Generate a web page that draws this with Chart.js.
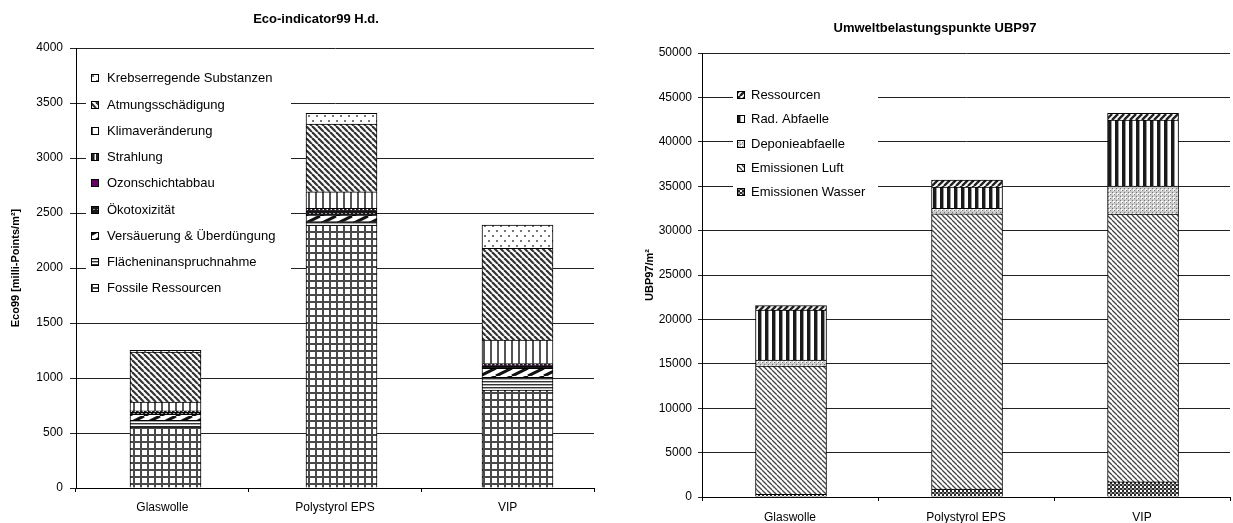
<!DOCTYPE html>
<html>
<head>
<meta charset="utf-8">
<script src="https://cdn.jsdelivr.net/npm/chart.js@4.4.1/dist/chart.umd.min.js"></script>
<style>
html,body{margin:0;padding:0;background:#fff;}
body{position:relative;width:1233px;height:523px;overflow:hidden;}
canvas{position:absolute;top:0;}
#eco{left:0;}
#ubp{left:632px;}
</style>
</head>
<body>
<canvas id="eco" width="632" height="523"></canvas>
<canvas id="ubp" width="606" height="523"></canvas>
<script>
// ---- Eco-indicator 99 (H.d.), milli-points per m² ----
const ecoTitle = 'Eco-indicator99 H.d.';
const ecoAxisTitle = 'Eco99 [milli-Points/m²]';
const ecoCategories = ['Glaswolle', 'Polystyrol EPS', 'VIP'];
const ecoTicks = [0, 500, 1000, 1500, 2000, 2500, 3000, 3500, 4000];
const ecoFossileRessourcen = [555, 2391, 890];
const ecoFlaechen = [60, 30, 115];
const ecoVersaeuerung = [55, 60, 82];
const ecoOekotox = [20, 40, 22];
const ecoOzon = [1, 2, 3];
const ecoStrahlung = [10, 20, 18];
const ecoKlima = [80, 150, 215];
const ecoAtmung = [455, 615, 834];
const ecoKrebs = [15, 97, 212];

// ---- Umweltbelastungspunkte UBP97 per m² ----
const ubpTitle = 'Umweltbelastungspunkte UBP97';
const ubpAxisTitle = 'UBP97/m²';
const ubpCategories = ['Glaswolle', 'Polystyrol EPS', 'VIP'];
const ubpTicks = [0, 5000, 10000, 15000, 20000, 25000, 30000, 35000, 40000, 45000, 50000];
const ubpWasser = [300, 900, 1700];
const ubpLuft = [14450, 31000, 30150];
const ubpDeponie = [680, 600, 3150];
const ubpRadAbfaelle = [5630, 2400, 7450];
const ubpRessourcen = [485, 800, 750];

Chart.defaults.font.family = '"Liberation Sans", Arial, sans-serif';
Chart.defaults.color = '#000';

// hatch fills
const helperCtx = document.createElement('canvas').getContext('2d');
function tile(w, h, draw) {
  const c = document.createElement('canvas');
  c.width = w; c.height = h;
  const g = c.getContext('2d');
  g.fillStyle = '#fff';
  g.fillRect(0, 0, w, h);
  draw(g, w, h);
  return helperCtx.createPattern(c, 'repeat');
}
function diag(dir, w, h, lw, color) {
  return tile(w, h, (g) => {
    g.strokeStyle = color; g.lineWidth = lw;
    for (let k = -2; k <= 2; k++) {
      g.beginPath();
      if (dir === '/') { g.moveTo(k * w, h); g.lineTo(k * w + w, 0); }
      else { g.moveTo(k * w, 0); g.lineTo(k * w + w, h); }
      g.stroke();
    }
  });
}
const fill = {
  grid: tile(7, 7, (g) => { g.fillStyle = '#4a4a4a'; g.fillRect(0, 0, 7, 2); g.fillRect(0, 0, 2, 7); }),
  hlines: tile(4, 3, (g) => { g.fillStyle = '#333'; g.fillRect(0, 0, 4, 1); g.fillStyle = '#aaa'; g.fillRect(0, 1, 4, 1); }),
  wideSlash: diag('/', 16, 8, 3, '#111'),
  darkDots: tile(4, 4, (g) => { g.fillStyle = '#1a1a1a'; g.fillRect(0, 0, 4, 4); g.fillStyle = '#999'; g.fillRect(1, 1, 2, 1); }),
  purple: '#660066',
  darkV: tile(4, 1, (g) => { g.fillStyle = '#222'; g.fillRect(0, 0, 2, 1); g.fillStyle = '#888'; g.fillRect(2, 0, 1, 1); }),
  lightV: tile(7, 1, (g) => { g.fillStyle = '#555'; g.fillRect(0, 0, 2, 1); }),
  backslash: diag('\\', 6, 6, 2.2, '#333'),
  dots: tile(8, 10, (g) => { g.fillStyle = '#777'; g.fillRect(0, 0, 2, 2); g.fillRect(4, 5, 2, 2); }),
  slashDense: diag('/', 6, 6, 2.4, '#222'),
  thickV: tile(7, 1, (g) => { g.fillStyle = '#1a1a1a'; g.fillRect(0, 0, 3, 1); g.fillStyle = '#999'; g.fillRect(3, 0, 1, 1); }),
  fineDots: tile(4, 4, (g) => { g.fillStyle = '#ccc'; g.fillRect(0, 0, 4, 4); g.fillStyle = '#fff'; g.fillRect(1, 1, 2, 2); g.fillStyle = '#777'; g.fillRect(0, 0, 1, 1); g.fillRect(2, 2, 1, 1); }),
  thinBackslash: diag('\\', 5, 5, 1.3, '#444'),
  checker: tile(4, 4, (g) => { g.fillStyle = '#2a2a2a'; g.fillRect(0, 0, 2, 2); g.fillRect(2, 2, 2, 2); g.fillStyle = '#888'; g.fillRect(2, 0, 2, 2); })
};

function series(label, values, bg) {
  return {
    label, backgroundColor: bg,
    data: values.map((v, i) => ({ x: i, y: v })),
    xAxisID: 'xb', yAxisID: 'y',
    borderColor: '#000', borderWidth: 1, borderSkipped: 'start',
    barThickness: 71
  };
}

// legend box drawn inside the plot area
function boxLegend(id, o) {
  return {
    id,
    afterDraw(chart) {
      const ctx = chart.ctx;
      ctx.save();
      ctx.fillStyle = '#fff';
      ctx.fillRect(o.bx, o.by, o.bw, o.bh);
      const items = chart.data.datasets.slice().reverse();
      ctx.font = o.font;
      ctx.textBaseline = 'middle';
      items.forEach((d, i) => {
        const cy = Math.round(o.y0 + i * o.dy);
        ctx.fillStyle = d.backgroundColor;
        ctx.fillRect(o.sx, cy - 3, 6, 6);
        ctx.strokeStyle = '#000';
        ctx.lineWidth = 1;
        ctx.strokeRect(o.sx - 0.5, cy - 3.5, 7, 7);
        ctx.fillStyle = '#000';
        ctx.fillText(d.label, o.tx, cy);
      });
      ctx.restore();
    }
  };
}

function makeChart(el, cfg) {
  return new Chart(document.getElementById(el), {
    type: 'bar',
    data: { datasets: cfg.datasets },
    options: {
      responsive: false, animation: false, devicePixelRatio: 1,
      layout: { padding: 0 },
      plugins: {
        legend: { display: false },
        tooltip: { enabled: false },
        title: {
          display: true, text: cfg.title, color: '#000',
          font: { size: 13, weight: 'bold' },
          padding: { top: cfg.titleTop, bottom: cfg.titleBottom }
        }
      },
      scales: {
        y: {
          type: 'linear', position: 'left', stacked: true,
          min: 0, max: cfg.ticks[cfg.ticks.length - 1],
          afterBuildTicks: (s) => { s.ticks = cfg.ticks.map((v) => ({ value: v })); },
          ticks: { font: { size: 12 }, color: '#000', padding: cfg.tickPad, callback: (v) => String(v) },
          grid: { color: '#222', tickColor: '#222', tickLength: cfg.tickLen, lineWidth: 1 },
          border: { color: '#000', width: 1 },
          title: {
            display: true, text: cfg.axisTitle, color: '#000',
            font: { size: 11, weight: 'bold' },
            padding: { top: cfg.axisTitlePad, bottom: 0 }
          },
          afterFit: (s) => { s.width = cfg.left; }
        },
        xb: { type: 'linear', display: false, stacked: true, offset: false, min: cfg.xMin, max: cfg.xMax },
        x: {
          type: 'category', labels: cfg.categories, position: 'bottom', offset: true,
          grid: { display: true, drawOnChartArea: false, tickLength: 4, color: '#000' },
          border: { color: '#000', width: 1 },
          ticks: { font: { size: 12 }, color: '#000', padding: cfg.xPad, maxRotation: 0 },
          afterFit: (s) => { s.height = cfg.bottom; }
        },
        pad: {
          type: 'linear', position: 'right', display: true,
          grid: { display: false }, ticks: { display: false }, border: { display: false },
          afterFit: (s) => { s.width = cfg.right; }
        }
      }
    },
    plugins: [boxLegend(el + 'Legend', cfg.legend)]
  });
}

makeChart('eco', {
  title: ecoTitle, axisTitle: ecoAxisTitle, categories: ecoCategories, ticks: ecoTicks,
  titleTop: 12, titleBottom: 20.4, left: 76, right: 38, bottom: 35,
  tickLen: 6, tickPad: 7, xPad: 8, axisTitlePad: 9.4,
  xMin: -0.5085, xMax: 2.4347,
  datasets: [
    series('Fossile Ressourcen', ecoFossileRessourcen, fill.grid),
    series('Flächeninanspruchnahme', ecoFlaechen, fill.hlines),
    series('Versäuerung & Überdüngung', ecoVersaeuerung, fill.wideSlash),
    series('Ökotoxizität', ecoOekotox, fill.darkDots),
    series('Ozonschichtabbau', ecoOzon, fill.purple),
    series('Strahlung', ecoStrahlung, fill.darkV),
    series('Klimaveränderung', ecoKlima, fill.lightV),
    series('Atmungsschädigung', ecoAtmung, fill.backslash),
    series('Krebserregende Substanzen', ecoKrebs, fill.dots)
  ],
  legend: { bx: 86, by: 62, bw: 205, bh: 238, sx: 92, tx: 107, y0: 78.3, dy: 26.25, font: '13px "Liberation Sans"' }
});

makeChart('ubp', {
  title: ubpTitle, axisTitle: ubpAxisTitle, categories: ubpCategories, ticks: ubpTicks,
  titleTop: 21, titleBottom: 16.4, left: 70, right: 8, bottom: 26,
  tickLen: 4, tickPad: 6, xPad: 9, axisTitlePad: 11.4,
  xMin: -0.5057, xMax: 2.494,
  datasets: [
    series('Emissionen Wasser', ubpWasser, fill.checker),
    series('Emissionen Luft', ubpLuft, fill.thinBackslash),
    series('Deponieabfaelle', ubpDeponie, fill.fineDots),
    series('Rad. Abfaelle', ubpRadAbfaelle, fill.thickV),
    series('Ressourcen', ubpRessourcen, fill.slashDense)
  ],
  legend: { bx: 101, by: 83, bw: 145, bh: 122, sx: 106, tx: 119, y0: 95, dy: 24.3, font: '13px "Liberation Sans"' }
});
</script>
</body>
</html>
